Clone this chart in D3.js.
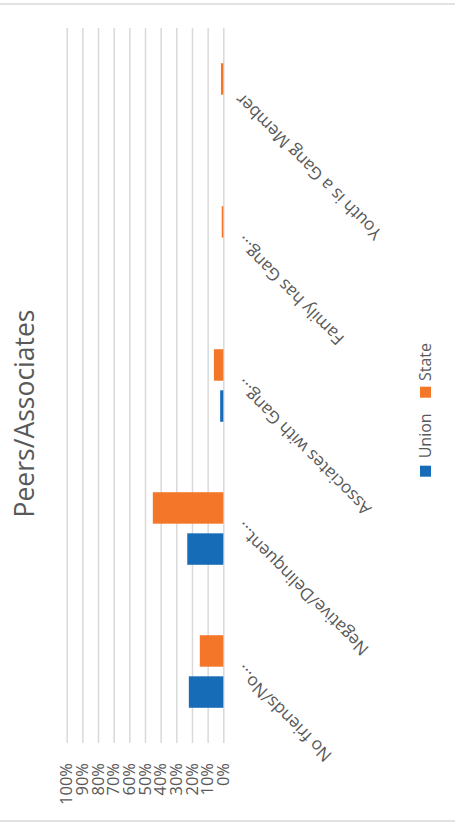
<!DOCTYPE html>
<html>
<head>
<meta charset="utf-8">
<script src="https://cdn.jsdelivr.net/npm/d3@7"></script>
<style>
  html, body { margin: 0; padding: 0; background: #fff; }
  svg { display: block; }
  text { font-family: "Open Sans", "Noto Sans", sans-serif; fill: #595959; }
</style>
</head>
<body>
<script>
// ---- data ----
const title = "Peers/Associates";
const categories = ["No friends/No...", "Negative/Delinquent...", "Associates with Gang...", "Family has Gang...", "Youth is a Gang Member"];
const seriesNames = ["Union", "State"];
const unionValues = [0.22, 0.23, 0.02, 0, 0];
const stateValues = [0.15, 0.45, 0.06, 0.01, 0.015];
const tickValues = [0, 0.1, 0.2, 0.3, 0.4, 0.5, 0.6, 0.7, 0.8, 0.9, 1.0];
const colors = { Union: "#166CB6", State: "#F47629" };

// ---- layout (chart drawn in unrotated frame, then rotated -90deg) ----
const PW = 455, PH = 827;      // page
const W = PH, H = PW;          // unrotated chart frame
const plot = { left: 84, right: 799, top: 66.7, bottom: 223.3 };

const svg = d3.select("body").append("svg").attr("width", PW).attr("height", PH);
const g = svg.append("g").attr("transform", `translate(0,${PH}) rotate(-90)`);

// border lines of chart area
[6, 823].forEach(xx => {
  g.append("line").attr("x1", xx).attr("x2", xx).attr("y1", -10).attr("y2", H + 10)
    .attr("stroke", "#d9d9d9").attr("stroke-width", 1.5);
});

const x = d3.scaleBand().domain(categories).range([plot.left, plot.right]);
const x1 = d3.scaleBand().domain(seriesNames).range([0, x.bandwidth()])
  .paddingInner(0.234).paddingOuter(0.857);
const y = d3.scaleLinear().domain([0, 1]).range([plot.bottom, plot.top]);

// gridlines + value axis
const yAxis = d3.axisLeft(y).tickValues(tickValues).tickFormat(d3.format(".0%"))
  .tickSizeInner(-(plot.right - plot.left)).tickSizeOuter(0).tickPadding(20);
const ya = g.append("g").attr("transform", `translate(${plot.left},0)`).call(yAxis);
ya.select(".domain").remove();
ya.selectAll(".tick line").attr("stroke", "#d9d9d9").attr("stroke-width", 1.5);
ya.selectAll(".tick text").attr("font-size", 16.5).attr("fill", "#595959")
  .style("font-family", "'Open Sans', sans-serif");

// bars
const rows = categories.map((c, i) => ({ cat: c, Union: unionValues[i], State: stateValues[i] }));
const grp = g.append("g").selectAll("g").data(rows).join("g")
  .attr("transform", d => `translate(${x(d.cat)},0)`);
grp.selectAll("rect").data(d => seriesNames.map(s => ({ s, v: d[s] }))).join("rect")
  .attr("x", d => x1(d.s))
  .attr("width", x1.bandwidth())
  .attr("y", d => y(d.v))
  .attr("height", d => y(0) - y(d.v))
  .attr("fill", d => colors[d.s]);

// category labels
g.append("g").selectAll("text").data(categories).join("text")
  .attr("transform", d => `translate(${x(d) + x.bandwidth() / 2 + 3},${plot.bottom + 15}) rotate(-45)`)
  .attr("text-anchor", "end")
  .attr("dy", "0.35em")
  .attr("font-size", 17.3)
  .text(d => d);

// title
g.append("text").attr("x", W / 2).attr("y", 34).attr("text-anchor", "middle")
  .attr("font-size", 26.5).text(title);

// legend
const legend = [
  { name: "Union", sx: 350.3, tx: 368.7 },
  { name: "State", sx: 429.3, tx: 446 }
];
const lg = g.append("g");
legend.forEach(l => {
  lg.append("rect").attr("x", l.sx).attr("y", 420).attr("width", 11).attr("height", 11)
    .attr("fill", colors[l.name]);
  lg.append("text").attr("x", l.tx).attr("y", 425.5).attr("dy", "0.35em")
    .attr("font-size", 16).text(l.name);
});
</script>
</body>
</html>
